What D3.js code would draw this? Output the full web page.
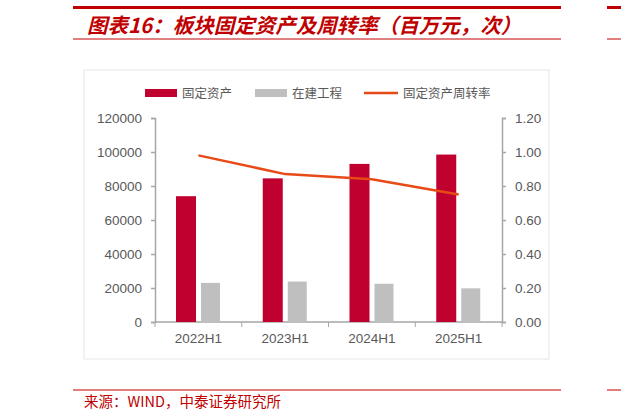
<!DOCTYPE html>
<html><head><meta charset="utf-8">
<script src="https://cdn.jsdelivr.net/npm/d3@7"></script>
<style>body{margin:0;background:#fff}svg{font-family:"Liberation Sans",Arial,sans-serif}</style>
</head><body><svg id="c" width="621" height="415"></svg>
<script>
var categories = ["2022H1", "2023H1", "2024H1", "2025H1"];
var fixedAssets = [74000, 84500, 93000, 98500];
var construction = [23000, 23800, 22500, 19800];
var turnover = [0.98, 0.87, 0.84, 0.75];
var leftTicks = [0, 20000, 40000, 60000, 80000, 100000, 120000];
var rightTicks = [0, 0.2, 0.4, 0.6, 0.8, 1.0, 1.2];

var svg = d3.select('#c');
var red = '#c0002e', gray = '#bfbfbf', orange = '#e84a17', cn = '"Noto Sans CJK SC",sans-serif';
var L = 155, R = 502, Y0 = 322, Y1 = 118;

// header / footer rules
svg.append('rect').attr('x', 73).attr('y', 6).attr('width', 488).attr('height', 3).attr('fill', '#c00000');
svg.append('line').attr('x1', 73).attr('x2', 561).attr('y1', 39).attr('y2', 39).attr('stroke', '#c00000');
svg.append('rect').attr('x', 607).attr('y', 6).attr('width', 14).attr('height', 3).attr('fill', '#c00000');
svg.append('line').attr('x1', 607).attr('x2', 621).attr('y1', 39).attr('y2', 39).attr('stroke', '#c00000');
svg.append('text').attr('x', 87).attr('y', 33).attr('fill', '#c00000').attr('font-size', 20.5)
    .attr('font-weight', 'bold').attr('font-style', 'italic').attr('font-family', cn)
    .text('图表16：板块固定资产及周转率（百万元，次）');
svg.append('line').attr('x1', 73).attr('x2', 561).attr('y1', 390).attr('y2', 390).attr('stroke', '#d9534f').attr('stroke-width', 1.5);
svg.append('line').attr('x1', 607).attr('x2', 621).attr('y1', 390).attr('y2', 390).attr('stroke', '#d9534f').attr('stroke-width', 1.5);
svg.append('text').attr('x', 84).attr('y', 407).attr('fill', '#c00000').attr('font-size', 14.5)
    .attr('font-family', cn).text('来源：WIND，中泰证券研究所');

// frame
svg.append('rect').attr('x', 84).attr('y', 70).attr('width', 465).attr('height', 289)
    .attr('fill', 'none').attr('stroke', '#e6e6e6');

var x = d3.scaleBand().domain(categories).range([L, R]);
var yL = d3.scaleLinear().domain([0, 120000]).range([Y0, Y1]);
var yR = d3.scaleLinear().domain([0, 1.2]).range([Y0, Y1]);

var axL = svg.append('g').attr('transform', 'translate(' + L + ',0)')
    .call(d3.axisLeft(yL).tickValues(leftTicks).tickSize(4).tickPadding(9).tickFormat(d3.format('d')));
var axR = svg.append('g').attr('transform', 'translate(' + R + ',0)')
    .call(d3.axisRight(yR).tickValues(rightTicks).tickSize(4).tickPadding(9).tickFormat(d3.format('.2f')));
var axB = svg.append('g').attr('transform', 'translate(0,' + Y0 + ')')
    .call(d3.axisBottom(x).tickSize(0).tickPadding(11));
svg.append('g').selectAll('line').data(d3.range(5)).enter().append('line')
    .attr('x1', function (i) { return L + i * x.step(); })
    .attr('x2', function (i) { return L + i * x.step(); })
    .attr('y1', Y0).attr('y2', Y0 + 5).attr('stroke', '#a6a6a6');
[axL, axR, axB].forEach(function (a) {
    a.selectAll('path,line').attr('stroke', '#a6a6a6').attr('stroke-width', 1.5);
    a.selectAll('text').attr('fill', '#595959').attr('font-size', 13.5);
});
axB.select('.domain').attr('d', 'M' + L + ',0H' + R);

var bw = 20;
svg.append('g').selectAll('rect').data(fixedAssets).enter().append('rect')
    .attr('x', function (d, i) { return x(categories[i]) + 21; })
    .attr('y', function (d) { return yL(d); })
    .attr('width', bw).attr('height', function (d) { return Y0 - yL(d); }).attr('fill', red);
svg.append('g').selectAll('rect').data(construction).enter().append('rect')
    .attr('x', function (d, i) { return x(categories[i]) + 46; })
    .attr('y', function (d) { return yL(d); })
    .attr('width', 19).attr('height', function (d) { return Y0 - yL(d); }).attr('fill', gray);

var line = d3.line()
    .x(function (d, i) { return x(categories[i]) + x.bandwidth() / 2; })
    .y(function (d) { return yR(d); });
svg.append('path').datum(turnover).attr('d', line).attr('fill', 'none')
    .attr('stroke', orange).attr('stroke-width', 2.5);

// legend
var lg = svg.append('g').attr('font-family', cn).attr('font-size', 12.5).attr('fill', '#595959');
lg.append('rect').attr('x', 145).attr('y', 89).attr('width', 32).attr('height', 8).attr('fill', red);
lg.append('text').attr('x', 182).attr('y', 98).text('固定资产');
lg.append('rect').attr('x', 255).attr('y', 89).attr('width', 32).attr('height', 8).attr('fill', gray);
lg.append('text').attr('x', 292).attr('y', 98).text('在建工程');
lg.append('line').attr('x1', 364).attr('x2', 398).attr('y1', 93).attr('y2', 93).attr('stroke', orange).attr('stroke-width', 2.5);
lg.append('text').attr('x', 403).attr('y', 98).text('固定资产周转率');
</script></body></html>
